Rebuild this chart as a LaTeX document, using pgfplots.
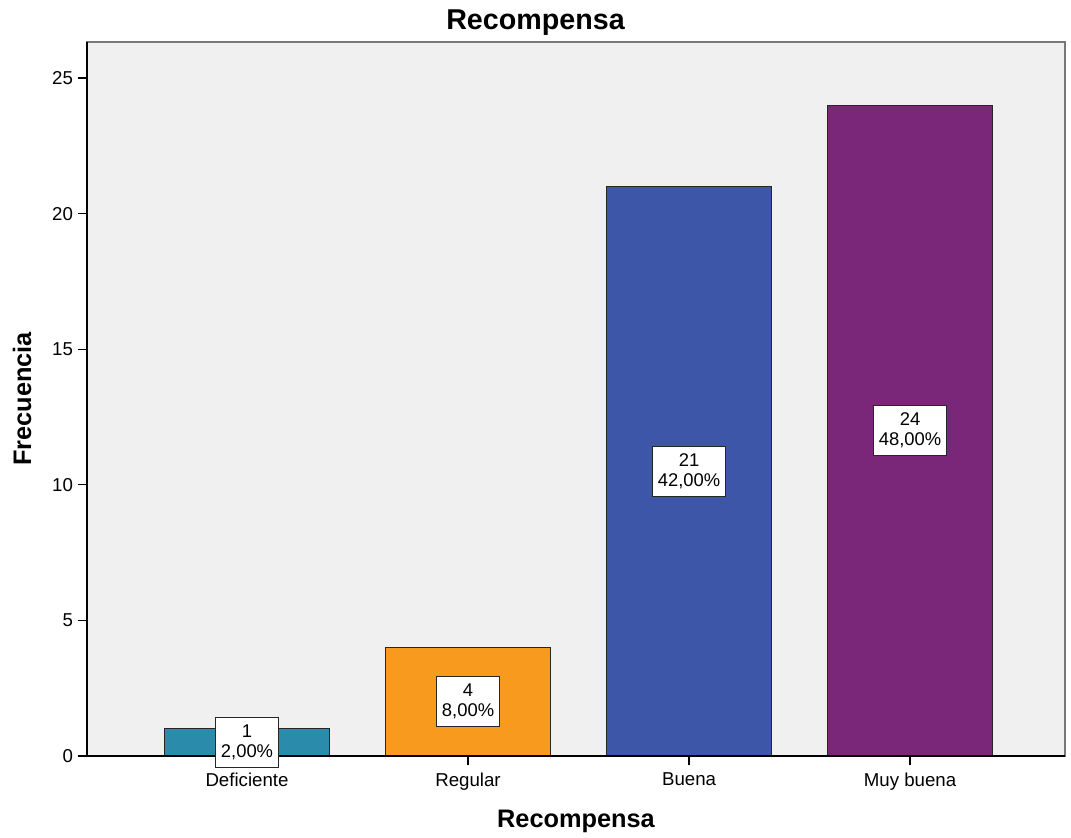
\documentclass[border=0pt]{standalone}
\usepackage{fontspec}
\setmainfont{Liberation Sans}
\usepackage{pgfplots}
\usepackage{pgfplotstable}
\pgfplotsset{compat=1.18}

\definecolor{bgc}{RGB}{240,240,240}
\definecolor{cdef}{RGB}{42,140,170}
\definecolor{creg}{RGB}{248,154,30}
\definecolor{cbue}{RGB}{61,86,168}
\definecolor{cmuy}{RGB}{123,39,121}
\definecolor{frame}{RGB}{120,120,120}

% x, frecuencia, mitad, porcentaje
\pgfplotstableread{
x n half pct
0 1 0.5 2.00
1 4 2 8.00
2 21 10.5 42.00
3 24 12 48.00
}\datos

\begin{document}
\begin{tikzpicture}
\begin{axis}[
  name=ax,
  scale only axis,
  width=733.5pt, height=535.5pt,
  xmin=-0.724, xmax=3.701,
  ymin=0, ymax=26.33,
  xtick={0,1,2,3},
  xticklabels={Deficiente,Regular,Buena,Muy buena},
  ytick={0,5,10,15,20,25},
  xtick pos=bottom, ytick pos=left,
  tick align=outside,
  major tick length=7pt,
  tick style={black, line width=0.9pt},
  axis line style={draw=frame, line width=1.2pt},
  axis background/.style={fill=bgc},
  ticklabel style={font=\fontsize{14}{16}\selectfont},
  xticklabel style={yshift=-2pt},
  /pgf/number format/assume math mode=true,
  xlabel={Recompensa},
  ylabel={Frecuencia},
  xlabel style={font=\bfseries\fontsize{19}{22}\selectfont, at={(axis description cs:0.5,-0.0915)}, anchor=center},
  ylabel style={font=\bfseries\fontsize{19}{22}\selectfont, at={(axis description cs:-0.0665,0.5)}, anchor=center, rotate=0},
  title={Recompensa},
  every axis title/.style={font=\bfseries\fontsize{21.5}{24}\selectfont, at={(axis description cs:0.4586,1.0265)}, anchor=center},
  ybar, bar width=123.75pt, bar shift=0pt,
  every axis plot/.append style={draw=black!85, line width=0.8pt},
  clip=false,
]
\addplot[fill=cdef] coordinates {(0,1)};
\addplot[fill=creg] coordinates {(1,4)};
\addplot[fill=cbue] coordinates {(2,21)};
\addplot[fill=cmuy] coordinates {(3,24)};

\addplot[draw=none, mark=none, forget plot,
  point meta=explicit symbolic,
  visualization depends on={\thisrow{pct}\as\pct},
  nodes near coords={\pgfplotspointmeta\\\pgfmathprintnumber[fixed,zerofill,precision=2,use comma]{\pct}\%},
  every node near coord/.style={anchor=center, fill=white, draw=black!85, line width=0.8pt,
    align=center, inner xsep=4pt, inner ysep=5.5pt,
    font=\fontsize{13.8}{15}\selectfont}]
  table[x=x, y=half, meta=n] {\datos};

\draw[black, line width=1.2pt] (rel axis cs:0,1) -- (rel axis cs:0,0) -- (rel axis cs:1,0);
\end{axis}
\pgfresetboundingbox
\path ([xshift=-65.25pt,yshift=-61.5pt]ax.south west) rectangle ([xshift=4.5pt,yshift=31.5pt]ax.north east);
\end{tikzpicture}
\end{document}
